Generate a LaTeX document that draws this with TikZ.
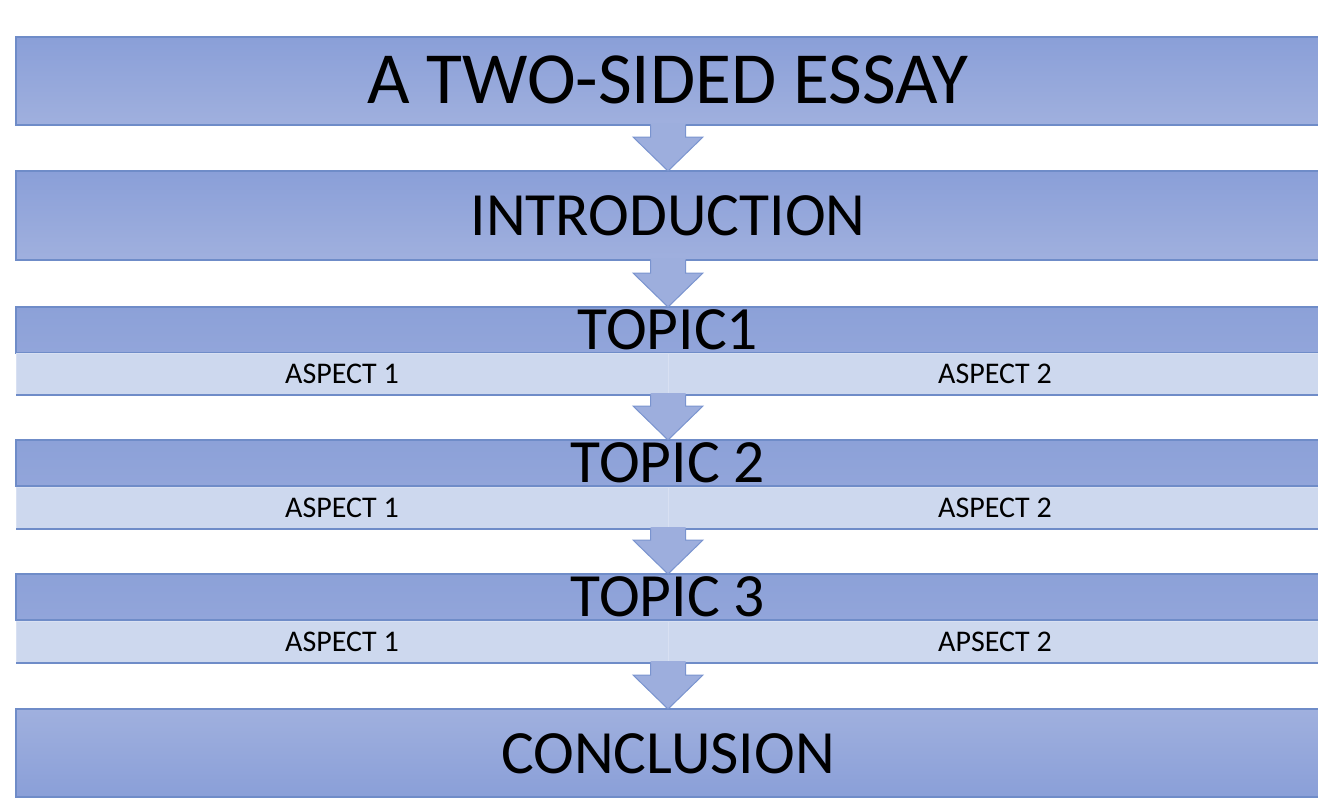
\documentclass[tikz,border=0pt]{standalone}
\usepackage{fontspec}
\setmainfont{Carlito}
\usetikzlibrary{calc}
\definecolor{barA}{HTML}{8A9FD8}
\definecolor{barB}{HTML}{A0B0DE}
\definecolor{barC}{HTML}{8CA1D8}
\definecolor{barD}{HTML}{92A5DA}
\definecolor{aspectfill}{HTML}{CDD8EE}
\definecolor{divider}{HTML}{D8E0F2}
\definecolor{edge}{HTML}{6F8CC8}
\definecolor{arrowfill}{HTML}{9DAEDD}
\definecolor{arrowedge}{HTML}{7A94CF}
\newcommand\flowarrow[2]{%
  \fill[arrowfill] ($(#1)+(-17.5,-2)$) -- ($(#1 |- #2)+(-17.5,-34)$) -- ($(#1 |- #2)+(-35,-34)$) -- (#1 |- #2) -- ($(#1 |- #2)+(35,-34)$) -- ($(#1 |- #2)+(17.5,-34)$) -- ($(#1)+(17.5,-2)$) -- cycle;
  \draw[arrowedge, line width=1pt, line join=miter] ($(#1)+(-17.5,0)$) -- ($(#1 |- #2)+(-17.5,-34)$) -- ($(#1 |- #2)+(-35,-34)$) -- (#1 |- #2) -- ($(#1 |- #2)+(35,-34)$) -- ($(#1 |- #2)+(17.5,-34)$) -- ($(#1)+(17.5,0)$);
}
\begin{document}
\begin{tikzpicture}[x=1pt,y=-1pt,
  box/.style={draw=edge, line width=1.2pt, minimum width=1306pt, inner sep=0pt, outer sep=0pt, anchor=north west},
  bigbox/.style={box, minimum height=88pt},
  topicbar/.style={box, minimum height=46pt, top color=barC, bottom color=barD},
  aspectcell/.style={inner sep=0pt, outer sep=0pt, anchor=north west, minimum height=42pt, fill=aspectfill, draw=divider, line width=0.6pt},
  bigtext/.style={anchor=base, font=\fontsize{61.5}{70}\selectfont},
  smalltext/.style={anchor=base, font=\fontsize{30}{36}\selectfont},
]
\useasboundingbox (0,0) rectangle (1318,808);
\fill[white] (0,0) rectangle (1318,808);

% boxes
\node[bigbox, top color=barA, bottom color=barB] (title) at (16,37) {};
\node[bigbox, minimum height=89pt, top color=barA, bottom color=barB] (intro) at (16,171) {};

\node[topicbar] (t1) at (16,307) {};
\node[aspectcell, minimum width=652pt] (a11) at (16,353) {};
\node[aspectcell, minimum width=654pt] (a12) at (668,353) {};
\draw[edge, line width=1.2pt] (a11.south west) -- (a12.south east);

\node[topicbar] (t2) at (16,440) {};
\node[aspectcell, minimum width=652pt] (a21) at (16,487) {};
\node[aspectcell, minimum width=654pt] (a22) at (668,487) {};
\draw[edge, line width=1.2pt] (a21.south west) -- (a22.south east);

\node[topicbar] (t3) at (16,574) {};
\node[aspectcell, minimum width=652pt] (a31) at (16,621) {};
\node[aspectcell, minimum width=654pt] (a32) at (668,621) {};
\draw[edge, line width=1.2pt] (a31.south west) -- (a32.south east);

\node[bigbox, top color=barB, bottom color=barA] (concl) at (16,709) {};

% arrows
\coordinate (s1) at (title.south -| a11.south east);
\coordinate (s2) at (intro.south -| a11.south east);
\flowarrow{s1}{intro.north}
\flowarrow{s2}{t1.north}
\flowarrow{a11.south east}{t2.north}
\flowarrow{a21.south east}{t3.north}
\flowarrow{a31.south east}{concl.north}

% texts
\node[anchor=base, font=\fontsize{73.5}{84}\selectfont] (ttitle) at (668,103) {A TWO-SIDED ESSAY};
\node[bigtext] (tintro) at (668,235) {INTRODUCTION};
\node[bigtext] (ttopic1) at (668,349) {TOPIC1};
\node[bigtext] (ttopic2) at (668,482) {TOPIC 2};
\node[bigtext] (ttopic3) at (668,616) {TOPIC 3};
\node[bigtext] (tconcl) at (668,773) {CONCLUSION};

\node[smalltext] at ($(a11.north)+(0,30)$) {ASPECT 1};
\node[smalltext] at ($(a12.north)+(0,30)$) {ASPECT 2};
\node[smalltext] at ($(a21.north)+(0,30)$) {ASPECT 1};
\node[smalltext] at ($(a22.north)+(0,30)$) {ASPECT 2};
\node[smalltext] at ($(a31.north)+(0,30)$) {ASPECT 1};
\node[smalltext] at ($(a32.north)+(0,30)$) {APSECT 2};
\end{tikzpicture}
\end{document}
